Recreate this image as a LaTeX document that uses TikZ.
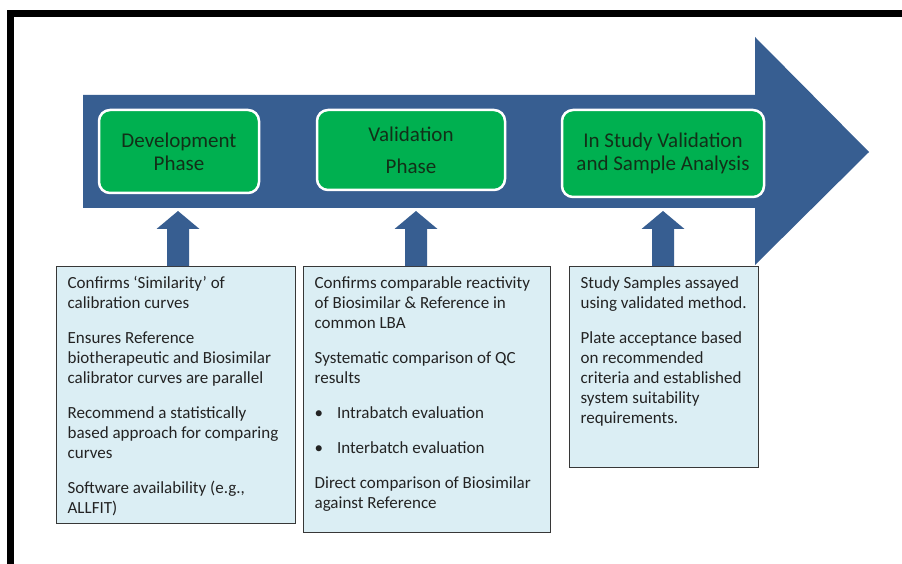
\documentclass[tikz,border=0pt]{standalone}
\usepackage{fontspec}
\setmainfont{Carlito}
\usetikzlibrary{calc}
\definecolor{bandblue}{RGB}{55,94,145}
\definecolor{phasegreen}{RGB}{0,176,80}
\definecolor{phasetext}{RGB}{18,48,24}
\definecolor{notefill}{RGB}{219,238,244}
\definecolor{noteline}{RGB}{55,55,55}
\definecolor{notetext}{RGB}{35,35,35}
\tikzset{
  band/.style={fill=bandblue},
  phase/.style={draw=white, line width=2.5pt, fill=phasegreen, rounded corners=11pt,
    text=phasetext, align=center, inner sep=0pt,
    font=\fontsize{21pt}{23pt}\selectfont},
  note/.style={draw=noteline, line width=1.3pt, fill=notefill, anchor=north west,
    text=notetext, inner xsep=0pt, inner ysep=4pt,
    font=\fontsize{17pt}{20pt}\selectfont},
}
% paragraph break inside a note
\newcommand{\notepar}{\par\vspace{15pt}}
% text of a note, set from the top: width, height, text
\newcommand{\notetext}[3]{%
  \begin{minipage}[t][#2][t]{#1}\raggedright\leftskip=11pt
  \rule{0pt}{18pt}#3\par\end{minipage}}
\begin{document}
\begin{tikzpicture}[x=1pt,y=-1pt]
\useasboundingbox (0,0) rectangle (902,564);
\begin{scope}
\clip (0,0) rectangle (902,564);
\fill[white] (0,0) rectangle (902,564);
% outer frame, open towards the right and the bottom
\draw[line width=7pt, line join=miter] (10.5,580) -- (10.5,13.5) -- (920,13.5);

% the process band with its arrow head
\fill[band] (83,95) -- (755,95) -- (755,37) -- (869,152) -- (755,265)
  -- (755,208) -- (83,208) -- cycle;
\end{scope}

% phases
\node[phase, minimum width=160pt, minimum height=83pt] (dev) at (179,151.5)
  {Development\\Phase};
\node[phase, minimum width=188pt, minimum height=80pt] (val) at (411,150)
  {Validation\\[9pt]Phase};
\node[phase, minimum width=202pt, minimum height=87pt] (ins) at (663,153.5)
  {In Study Validation\\and Sample Analysis};

% notes under each phase
\node[note] (n1) at (56,266)
  {\notetext{239pt}{249pt}{%
   Confirms ‘Similarity’ of\\calibration curves\notepar
   Ensures Reference\\biotherapeutic and Biosimilar\\calibrator curves are parallel\notepar
   Recommend a statistically\\based approach for comparing\\curves\notepar
   Software availability (e.g.,\\ALLFIT)}};
\node[note] (n2) at (303,266)
  {\notetext{247pt}{258pt}{%
   Confirms comparable reactivity\\of Biosimilar \& Reference in\\common LBA\notepar
   Systematic comparison of QC\\results\notepar
   •\hspace{14pt}Intrabatch evaluation\notepar
   •\hspace{14pt}Interbatch evaluation\notepar
   Direct comparison of Biosimilar\\against Reference}};
\node[note] (n3) at (569,266)
  {\notetext{189pt}{193pt}{%
   Study Samples assayed\\using validated method.\notepar
   Plate acceptance based\\on recommended\\criteria and established\\system suitability\\requirements.}};

% arrows from each note up to its phase
\foreach \cx/\nt in {178/n1, 416/n2, 663/n3}{
  \fill[band] (\cx,0 |- \nt.north) ++(-11,0) -- ++(0,-37) -- ++(-10.5,0)
    -- ++(21.5,-18) -- ++(21.5,18) -- ++(-10.5,0) -- ++(0,37) -- cycle;
}
\end{tikzpicture}
\end{document}
